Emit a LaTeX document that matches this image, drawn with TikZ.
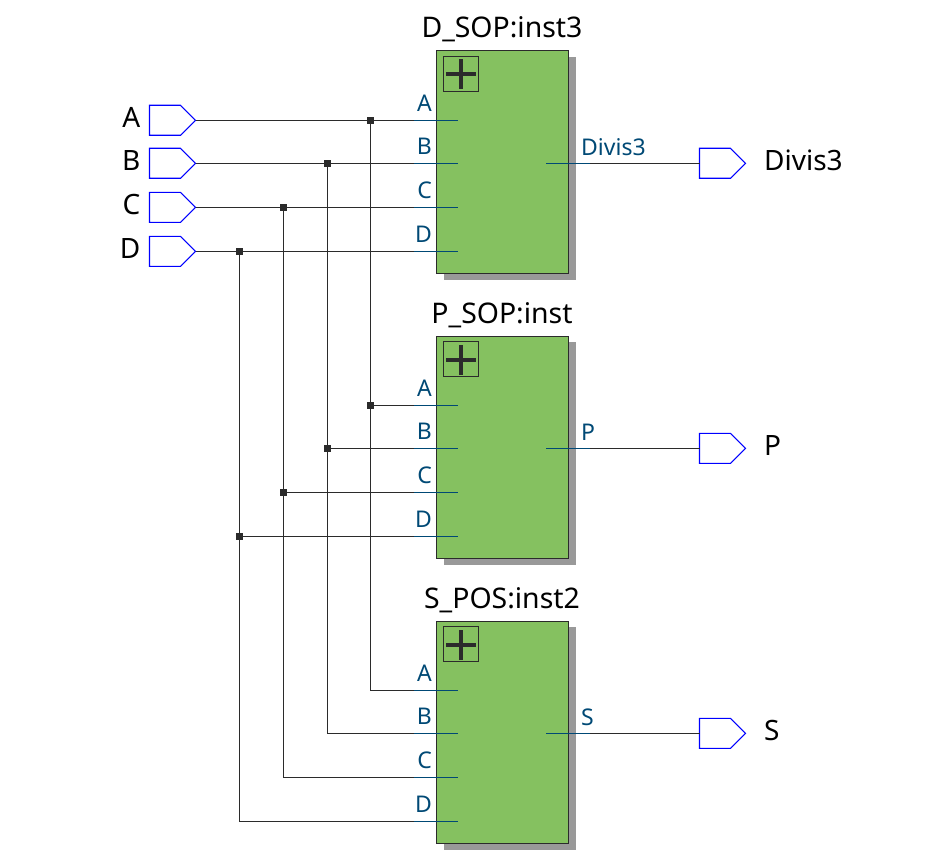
\documentclass[tikz,border=0pt]{standalone}
\usepackage{fontspec}
\setmainfont{Noto Sans}
\usetikzlibrary{positioning,shapes.symbols}
\definecolor{wireColor}{RGB}{43,43,43}
\definecolor{portColor}{RGB}{0,73,117}
\definecolor{blockColor}{RGB}{133,193,96}
\definecolor{shadowColor}{RGB}{153,153,153}
\tikzstyle{schematic} = [x = 1pt, y = -1pt]
\tikzstyle{wire} = [color=wireColor, line width=1pt]
\tikzstyle{portStub} = [color=portColor, line width=1pt]
\tikzstyle{junction} = [rectangle, fill=wireColor, minimum size=7pt, inner sep=0pt, outer sep=0pt]
\tikzstyle{pinStyle} = [signal, signal to=east, signal pointer angle=90, draw=blue, fill=white, line width=1.1pt, minimum width=46pt, minimum height=30pt, inner sep=0pt, outer sep=0pt, anchor=east]
\tikzstyle{pinText} = [font=\fontsize{28}{28}\selectfont, color=black, inner sep=0pt]
\tikzstyle{titleText} = [font=\fontsize{28.4}{28.4}\selectfont, color=black, inner sep=0pt]
\tikzstyle{portText} = [font=\fontsize{23}{23}\selectfont, color=portColor, inner sep=0pt]
\tikzstyle{blockStyle} = [draw=wireColor, fill=blockColor, line width=1pt]
\tikzstyle{shadowStyle} = [fill=shadowColor]
\newcommand{\inputPin}[2]{
  \node [pinStyle] (pin#1) at (195.5, #2) {};
  \node [pinText, anchor=base east] (pinText#1) at (140.5, #2 + 7.3) {#1};
}
\newcommand{\outputPin}[3]{
  \node [pinStyle] (pin#1) at (745.5, #2) {};
  \node [pinText, anchor=base west] (pinText#1) at (764, #2 + 7) {#1};
  \draw [wire] (#3) -- (pin#1.west);
}
% one block with its four inputs and one output
\newcommand{\logicBlock}[4]{
  \fill [shadowStyle] (444, #1 + 6) rectangle (575.5, #1 + 229);
  \filldraw [blockStyle] (436, #1) rectangle (568, #1 + 222);
  \draw [blockStyle, fill=none] (443.5, #1 + 5.5) rectangle (478.5, #1 + 40.5);
  \fill [wireColor] (446, #1 + 21.5) rectangle (476, #1 + 25.5);
  \fill [wireColor] (459, #1 + 8.5) rectangle (463, #1 + 38.5);
  \node [titleText, anchor=base] (title#2) at (502, #1 - 13) {#3};
  \foreach \port/\portY in {A/69.3, B/112.3, C/156.3, D/200.3} {
    \coordinate (#2\port) at (414, #1 + \portY);
    \draw [portStub] (#2\port) -- (458, #1 + \portY);
    \node [portText, anchor=base east] (#2Label\port) at (432, #1 + \portY - 9) {\port};
  }
  \coordinate (#2Out) at (590, #1 + 112.3);
  \draw [portStub] (546, #1 + 112.3) -- (#2Out);
  \node [portText, anchor=base west] (#2LabelOut) at (581, #1 + 104.6) {#4};
}
\begin{document}
\begin{tikzpicture}[schematic]
  \useasboundingbox (0,0) rectangle (944,861);
  \logicBlock{51}{dBlock}{D\_SOP:inst3}{Divis3}
  \logicBlock{336}{pBlock}{P\_SOP:inst}{P}
  \logicBlock{621}{sBlock}{S\_POS:inst2}{S}
  \inputPin{A}{120.3}
  \inputPin{B}{163.3}
  \inputPin{C}{207.3}
  \inputPin{D}{251.3}
  \foreach \wireName/\column/\rowY in {A/370.3/69.3, B/327.3/112.3, C/283.3/156.3, D/239.3/200.3} {
    \node [junction] (top\wireName) at (\column, 51 + \rowY) {};
    \node [junction] (mid\wireName) at (\column, 336 + \rowY) {};
    \draw [wire] (pin\wireName.east) -- (top\wireName) -- (dBlock\wireName);
    \draw [wire] (top\wireName) -- (mid\wireName) -- (pBlock\wireName);
    \draw [wire] (mid\wireName) |- (sBlock\wireName);
  }
  \outputPin{Divis3}{163.3}{dBlockOut}
  \outputPin{P}{448.3}{pBlockOut}
  \outputPin{S}{733.3}{sBlockOut}
\end{tikzpicture}
\end{document}
